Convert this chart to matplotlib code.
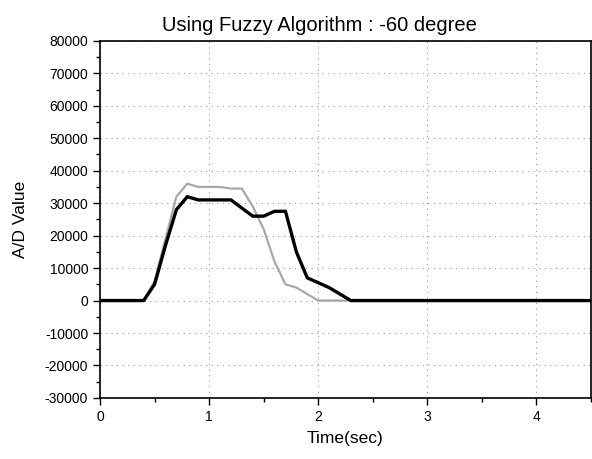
import matplotlib
matplotlib.use("Agg")
import matplotlib.pyplot as plt
import numpy as np
from matplotlib.ticker import MultipleLocator

plt.rcParams['font.family'] = ['Liberation Sans', 'DejaVu Sans']
plt.rcParams['axes.unicode_minus'] = False

t = np.round(np.arange(0, 4.55, 0.1), 2)

black_head = [0, 0, 0, 0, 0, 5000, 17000, 28000, 32000, 31000, 31000, 31000, 31000,
              28500, 26000, 26000, 27500, 27500, 15000, 7000, 5500, 4000, 2000, 0]
gray_head = [0, 0, 0, 0, 0, 6000, 19000, 32000, 36000, 35000, 35000, 35000, 34500,
             34500, 29000, 22000, 12000, 5000, 4000, 2000, 0]

black = black_head + [0] * (len(t) - len(black_head))
gray = gray_head + [0] * (len(t) - len(gray_head))

fig = plt.figure(figsize=(5.92, 4.59), dpi=100)
ax = fig.add_axes([0.169, 0.133, 0.829, 0.778])

ax.plot(t, gray, color="#a8a8a8", lw=1.6)
ax.plot(t, black, color="black", lw=2.4)

ax.set_xlim(0, 4.5)
ax.set_ylim(-30000, 80000)
ax.xaxis.set_major_locator(MultipleLocator(1))
ax.xaxis.set_minor_locator(MultipleLocator(0.5))
ax.yaxis.set_major_locator(MultipleLocator(10000))
ax.yaxis.set_minor_locator(MultipleLocator(5000))
ax.tick_params(which="major", direction="out", length=5, width=1, labelsize=10)
ax.tick_params(which="minor", direction="out", length=3, width=1)
ax.grid(True, which="major", linestyle=(0, (1, 4)), color="#999999", lw=0.8)

for s in ax.spines.values():
    s.set_linewidth(1.2)

fig.text(0.54, 0.945, "Using Fuzzy Algorithm : -60 degree", fontsize=14.5,
         ha="center", va="center")
ax.set_xlabel("Time(sec)", fontsize=12.5, labelpad=5)
ax.set_ylabel("A/D Value", fontsize=12.5, labelpad=12)

fig.savefig("out.png", dpi=100)
